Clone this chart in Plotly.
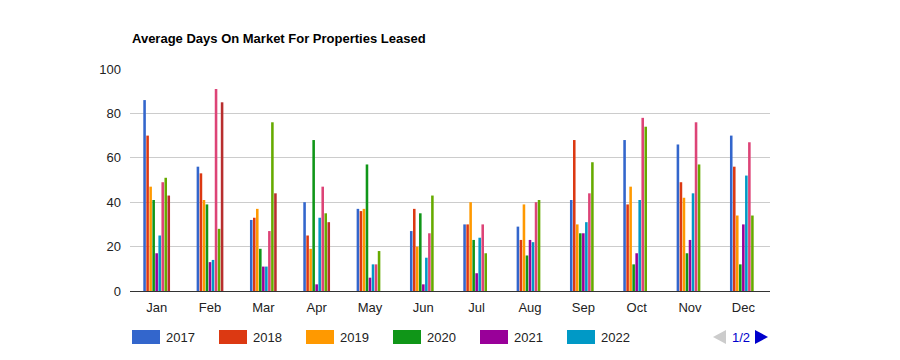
import plotly.graph_objects as go

months = ["Jan", "Feb", "Mar", "Apr", "May", "Jun", "Jul", "Aug", "Sep", "Oct", "Nov", "Dec"]
years = ["2017", "2018", "2019", "2020", "2021", "2022", "2023", "2024", "2025"]

v2017 = [86, 56, 32, 40, 37, 27, 30, 29, 41, 68, 66, 70]
v2018 = [70, 53, 33, 25, 36, 37, 30, 23, 68, 39, 49, 56]
v2019 = [47, 41, 37, 19, 37, 20, 40, 39, 30, 47, 42, 34]
v2020 = [41, 39, 19, 68, 57, 35, 23, 16, 26, 12, 17, 12]
v2021 = [17, 13, 11, 3, 6, 3, 8, 23, 26, 17, 23, 30]
v2022 = [25, 14, 11, 33, 12, 15, 24, 22, 31, 41, 44, 52]
v2023 = [49, 91, 27, 47, 12, 26, 30, 40, 44, 78, 76, 67]
v2024 = [51, 28, 76, 35, 18, 43, 17, 41, 58, 74, 57, 34]
v2025 = [43, 85, 44, 31, None, None, None, None, None, None, None, None]

series = [v2017, v2018, v2019, v2020, v2021, v2022, v2023, v2024, v2025]
colors = ["#3366cc", "#dc3912", "#ff9900", "#109618", "#990099", "#0099c6",
          "#dd4477", "#66aa00", "#b82e2e"]

L, R, T, B = 130, 770, 69, 291  # plot area in pixels
W, H = 900, 360


def px_x(p):
    return (p - L) / (R - L)


def px_y(p):
    return (B - p) / (B - T)


fig = go.Figure()
for i, (yr, vals) in enumerate(zip(years, series)):
    fig.add_trace(go.Bar(
        x=months, y=vals, name=yr, marker_color=colors[i],
        marker_line_width=0, showlegend=False,
    ))

fig.update_layout(
    width=W, height=H,
    margin=dict(l=L, r=W - R, t=T, b=H - B, autoexpand=False),
    paper_bgcolor="white", plot_bgcolor="white",
    barmode="group", bargap=0.49, bargroupgap=0.15,
    font=dict(family="Arial, Liberation Sans, sans-serif", size=13, color="#222222"),
    title=dict(text="<b>Average Days On Market For Properties Leased</b>",
               x=132 / W, xanchor="left", y=1 - 38 / H, yanchor="middle",
               font=dict(size=13, color="#000000")),
    showlegend=False,
)
fig.update_yaxes(range=[0, 100], dtick=20, showgrid=True, gridcolor="#cccccc",
                 zeroline=True, zerolinecolor="#333333", zerolinewidth=1,
                 ticks="", ticklabelstandoff=8, fixedrange=True)
fig.update_xaxes(showgrid=False, ticks="", showline=True, linecolor="#333333",
                 linewidth=1, fixedrange=True, ticklabelstandoff=4)

# Legend (page 1 of 2), Google Charts style
leg_y = 337
for i in range(6):
    x0 = 132 + 87 * i
    fig.add_shape(type="rect", xref="paper", yref="paper",
                  x0=px_x(x0), x1=px_x(x0 + 28), y0=px_y(leg_y - 7), y1=px_y(leg_y + 7),
                  fillcolor=colors[i], line_width=0)
    fig.add_annotation(xref="paper", yref="paper", x=px_x(x0 + 32), y=px_y(leg_y),
                       text=years[i], showarrow=False, xanchor="left", yanchor="middle",
                       font=dict(size=13, color="#222222"))

# pager arrows as triangles
fig.add_shape(type="path", xref="paper", yref="paper",
              path=f"M {px_x(713)} {px_y(337)} L {px_x(726)} {px_y(330)} L {px_x(726)} {px_y(344)} Z",
              fillcolor="#cccccc", line_width=0)
fig.add_shape(type="path", xref="paper", yref="paper",
              path=f"M {px_x(768)} {px_y(337)} L {px_x(755)} {px_y(330)} L {px_x(755)} {px_y(344)} Z",
              fillcolor="#0000cc", line_width=0)
fig.add_annotation(xref="paper", yref="paper", x=px_x(741), y=px_y(leg_y),
                   text="1/2", showarrow=False,
                   font=dict(size=13, color="#0000cc"), xanchor="center", yanchor="middle")

fig.write_html("out.html", config={"displayModeBar": False},
               post_script="document.body.style.margin='0';")
